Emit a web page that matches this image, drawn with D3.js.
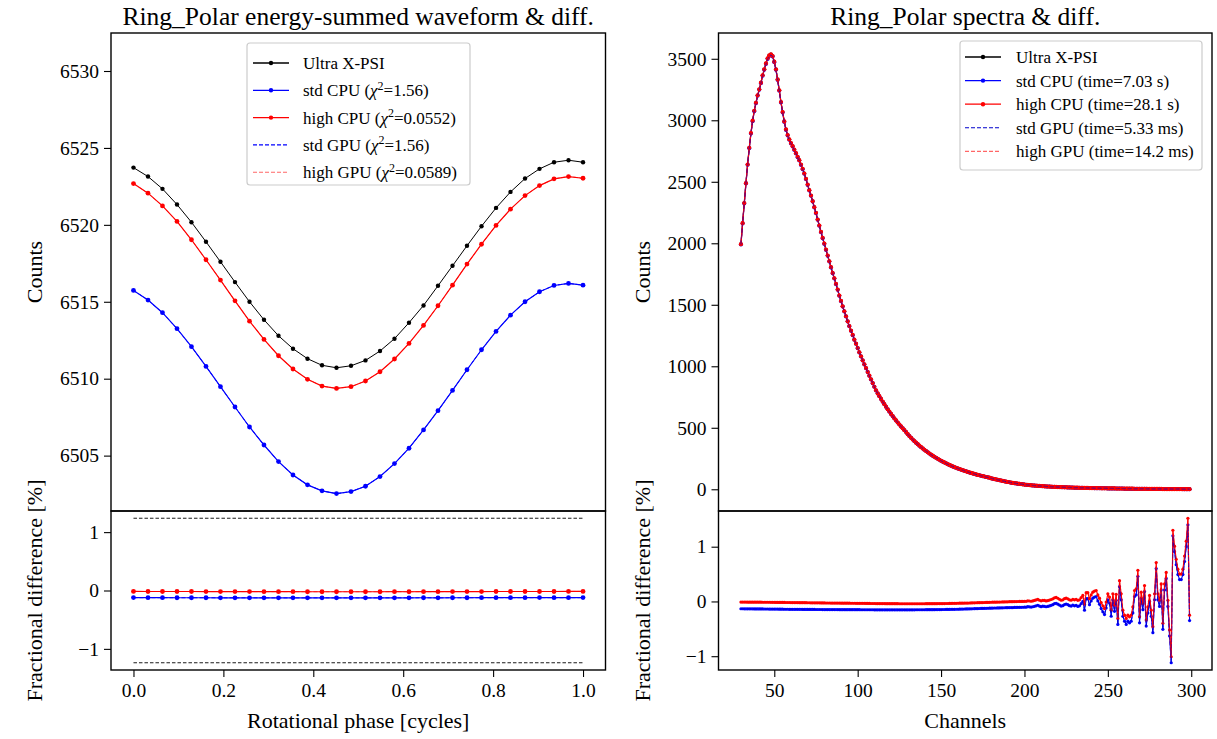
<!DOCTYPE html>
<html><head><meta charset="utf-8">
<script src="https://cdn.jsdelivr.net/npm/d3@7"></script>
<style>
body{margin:0;background:#fff}
svg{display:block}
text{font-family:"Liberation Serif","Times New Roman",serif;fill:#000}
</style>
</head><body>
<svg id="c" width="1217" height="739"></svg>
<script>
// ---------------- DATA ----------------
const phase = [0.0000,0.0323,0.0645,0.0968,0.1290,0.1613,0.1935,0.2258,0.2581,0.2903,0.3226,0.3548,0.3871,0.4194,0.4516,0.4839,
  0.5161,0.5484,0.5806,0.6129,0.6452,0.6774,0.7097,0.7419,0.7742,0.8065,0.8387,0.8710,0.9032,0.9355,0.9677,1.0000];
const ultraWave = [6523.72,6523.14,6522.34,6521.32,6520.17,6518.90,6517.60,6516.28,6515.00,6513.83,6512.79,6511.95,6511.30,6510.87,6510.71,6510.84,
  6511.19,6511.80,6512.60,6513.64,6514.76,6516.04,6517.34,6518.64,6519.91,6521.10,6522.14,6523.01,6523.64,6524.07,6524.20,6524.07];
const highWave = [6522.68,6522.06,6521.23,6520.22,6519.03,6517.73,6516.41,6515.06,6513.74,6512.55,6511.49,6510.63,6509.96,6509.52,6509.37,6509.48,
  6509.85,6510.45,6511.28,6512.29,6513.46,6514.74,6516.08,6517.45,6518.74,6519.96,6521.02,6521.90,6522.55,6522.99,6523.14,6523.03];
const stdWave = [6515.74,6515.11,6514.29,6513.25,6512.08,6510.80,6509.48,6508.16,6506.86,6505.69,6504.61,6503.74,6503.10,6502.71,6502.53,6502.66,
  6503.01,6503.64,6504.48,6505.48,6506.67,6507.92,6509.24,6510.58,6511.88,6513.07,6514.13,6515.00,6515.65,6516.06,6516.19,6516.08];
const highWaveDiff = [-0.016,-0.017,-0.017,-0.017,-0.017,-0.018,-0.018,-0.019,-0.019,-0.020,-0.020,-0.020,-0.021,-0.021,-0.021,-0.021,
  -0.021,-0.021,-0.020,-0.021,-0.020,-0.020,-0.019,-0.018,-0.018,-0.017,-0.017,-0.017,-0.017,-0.017,-0.016,-0.016];
const stdWaveDiff = [-0.122,-0.123,-0.123,-0.124,-0.124,-0.124,-0.125,-0.125,-0.125,-0.125,-0.126,-0.126,-0.126,-0.125,-0.126,-0.126,
  -0.126,-0.125,-0.125,-0.125,-0.124,-0.125,-0.124,-0.124,-0.123,-0.123,-0.123,-0.123,-0.122,-0.123,-0.123,-0.122];
const noiseLevel = [1.238, -1.238];

const channels = d3.range(30, 300);
const ultraSpec = [
  1993,2164,2327,2489,2641,2777,2896,2997,3078,3143,
  3203,3252,3306,3366,3415,3463,3504,3528,3537,3523,
  3477,3415,3333,3244,3149,3067,2991,2926,2880,2845,
  2815,2790,2763,2733,2704,2676,2641,2606,2568,2525,
  2478,2432,2389,2343,2294,2248,2194,2145,2093,2044,
  1998,1949,1901,1854,1806,1759,1716,1670,1624,1575,
  1532,1488,1448,1407,1366,1328,1290,1255,1217,1184,
  1149,1114,1081,1049,1016,986,954,924,894,864,
  834,805,780,757,735,713,692,671,651,632,
  613,595,577,560,543,527,511,496,481,466,
  448,433,419,405,392,379,367,355,343,332,
  321,311,301,291,282,273,264,256,248,240,
  232,225,218,211,204,198,192,186,180,175,
  170,165,160,155,150,146,141,137,133,129,
  125,121,117,114,110,107,104,100,97,94,
  89,86,83,80,77,74,71,68,65,62,
  59,57,54,52,50,48,46,44,42,40,
  38,37,35,34,32,31,30,29,28,27,
  26,25,24,23,22,22,21,20,20,19,
  18,18,17,17,16,16,15,15,14,14,
  13,13,13,12,12,12,11,11,11,10,
  10,10,9,9,9,9,8,8,8,8,
  7,7,7,7,7,6,6,6,6,6,
  5,5,5,5,5,5,4,4,4,4,
  4,4,4,4,3,3,3,3,3,3,
  3,3,3,2,2,2,2,2,2,2,
  2,2,2,2,2,1,1,1,1,1];
const highSpecDiff = [
  -0.012,-0.012,-0.012,-0.012,-0.013,-0.013,-0.013,-0.013,-0.013,-0.014,
  -0.014,-0.014,-0.014,-0.015,-0.015,-0.015,-0.015,-0.015,-0.016,-0.016,
  -0.016,-0.017,-0.017,-0.017,-0.018,-0.018,-0.018,-0.019,-0.019,-0.019,
  -0.020,-0.020,-0.021,-0.021,-0.021,-0.022,-0.022,-0.023,-0.023,-0.023,
  -0.024,-0.024,-0.025,-0.025,-0.025,-0.026,-0.026,-0.026,-0.027,-0.027,
  -0.027,-0.028,-0.028,-0.028,-0.029,-0.029,-0.029,-0.030,-0.030,-0.030,
  -0.031,-0.031,-0.031,-0.032,-0.032,-0.032,-0.033,-0.033,-0.033,-0.034,
  -0.034,-0.034,-0.035,-0.035,-0.035,-0.036,-0.036,-0.036,-0.037,-0.037,
  -0.037,-0.038,-0.038,-0.038,-0.039,-0.039,-0.039,-0.040,-0.040,-0.040,
  -0.040,-0.041,-0.041,-0.041,-0.041,-0.042,-0.042,-0.042,-0.042,-0.042,
  -0.042,-0.042,-0.042,-0.042,-0.042,-0.042,-0.042,-0.042,-0.042,-0.042,
  -0.042,-0.041,-0.041,-0.041,-0.041,-0.040,-0.040,-0.040,-0.039,-0.039,
  -0.039,-0.038,-0.038,-0.037,-0.037,-0.036,-0.036,-0.035,-0.034,-0.034,
  -0.033,-0.032,-0.032,-0.031,-0.030,-0.029,-0.029,-0.028,-0.027,-0.026,
  -0.025,-0.024,-0.023,-0.022,-0.021,-0.020,-0.019,-0.018,-0.017,-0.016,
  -0.015,-0.014,-0.013,-0.013,-0.012,-0.011,-0.010,-0.009,-0.008,-0.007,
  -0.006,-0.005,-0.004,-0.004,-0.003,-0.002,-0.001,0.000,0.000,0.001,
  0.002,0.003,0.012,0.008,0.004,0.010,0.018,0.028,0.038,0.022,
  0.012,0.020,0.018,0.010,0.016,0.026,0.036,0.048,0.066,0.074,
  0.058,0.040,0.022,0.030,0.050,0.060,0.048,0.030,0.022,0.040,
  0.03,0.04,0.02,0.03,0.07,0.11,-0.05,0.16,0.16,0.05,
  0.12,0.17,0.19,0.20,0.12,0.06,-0.02,-0.08,-0.13,-0.01,
  0.14,0.08,-0.16,0.14,-0.07,0.13,-0.31,0.38,0.14,-0.16,
  -0.25,-0.31,-0.25,-0.28,-0.25,-0.10,0.20,0.23,0.57,-0.28,
  0.17,-0.04,0.29,-0.34,-0.10,0.11,-0.16,-0.46,0.14,0.71,
  0.14,0.02,0.32,-0.40,0.32,0.53,0.02,-0.52,-1.01,1.30,
  1.01,0.77,0.59,0.50,0.50,0.59,0.83,1.10,1.52,-0.25];
const stdSpecDiff = [
  -0.133,-0.133,-0.134,-0.134,-0.134,-0.135,-0.135,-0.135,-0.136,-0.136,
  -0.136,-0.137,-0.137,-0.137,-0.138,-0.138,-0.138,-0.139,-0.139,-0.139,
  -0.140,-0.140,-0.140,-0.141,-0.141,-0.141,-0.142,-0.142,-0.142,-0.143,
  -0.143,-0.143,-0.143,-0.144,-0.144,-0.144,-0.144,-0.145,-0.145,-0.145,
  -0.145,-0.146,-0.146,-0.146,-0.146,-0.147,-0.147,-0.147,-0.147,-0.148,
  -0.148,-0.148,-0.148,-0.148,-0.149,-0.149,-0.149,-0.149,-0.149,-0.150,
  -0.150,-0.150,-0.150,-0.150,-0.150,-0.151,-0.151,-0.151,-0.151,-0.151,
  -0.151,-0.151,-0.152,-0.152,-0.152,-0.152,-0.152,-0.152,-0.152,-0.152,
  -0.153,-0.153,-0.153,-0.153,-0.153,-0.153,-0.153,-0.153,-0.153,-0.153,
  -0.153,-0.153,-0.153,-0.153,-0.153,-0.153,-0.153,-0.153,-0.153,-0.153,
  -0.153,-0.153,-0.153,-0.153,-0.153,-0.152,-0.152,-0.152,-0.152,-0.152,
  -0.152,-0.151,-0.151,-0.151,-0.150,-0.150,-0.150,-0.149,-0.149,-0.148,
  -0.148,-0.147,-0.147,-0.146,-0.146,-0.145,-0.144,-0.144,-0.143,-0.142,
  -0.142,-0.141,-0.140,-0.139,-0.138,-0.137,-0.136,-0.135,-0.134,-0.133,
  -0.132,-0.131,-0.130,-0.129,-0.128,-0.127,-0.126,-0.125,-0.124,-0.123,
  -0.122,-0.121,-0.120,-0.120,-0.119,-0.118,-0.117,-0.116,-0.115,-0.114,
  -0.113,-0.112,-0.111,-0.111,-0.110,-0.109,-0.108,-0.107,-0.107,-0.106,
  -0.105,-0.104,-0.095,-0.099,-0.103,-0.097,-0.089,-0.079,-0.069,-0.085,
  -0.095,-0.087,-0.089,-0.097,-0.091,-0.081,-0.071,-0.059,-0.041,-0.033,
  -0.049,-0.067,-0.085,-0.077,-0.057,-0.047,-0.059,-0.077,-0.085,-0.067,
  -0.08,-0.07,-0.09,-0.08,-0.04,0.00,-0.16,0.05,0.05,-0.06,
  0.01,0.06,0.08,0.09,0.01,-0.05,-0.13,-0.19,-0.24,-0.12,
  0.03,-0.03,-0.27,0.03,-0.18,0.02,-0.42,0.27,0.03,-0.27,
  -0.36,-0.42,-0.36,-0.39,-0.36,-0.21,0.09,0.12,0.46,-0.39,
  0.06,-0.15,0.18,-0.45,-0.21,0.00,-0.27,-0.57,0.03,0.60,
  0.03,-0.09,0.21,-0.51,0.21,0.42,-0.09,-0.63,-1.12,1.20,
  0.91,0.67,0.49,0.40,0.40,0.49,0.73,1.00,1.40,-0.35];
// CPU/GPU spectra: reference spectrum scaled by the read fractional differences
const stdSpec = ultraSpec.map((v,i)=>v*(1+stdSpecDiff[i]/100));
const highSpec = ultraSpec.map((v,i)=>v*(1+highSpecDiff[i]/100));

const waveYTicks = [6505,6510,6515,6520,6525,6530];
const diffTicks = [-1,0,1];
const phaseTicks = [0,0.2,0.4,0.6,0.8,1.0];
const specYTicks = [0,500,1000,1500,2000,2500,3000,3500];
const chanTicks = [50,100,150,200,250,300];

const leftLegend = [
  {label:["Ultra X-PSI"], color:"#000", dash:null, marker:true},
  {label:["std CPU (","χ","2","=1.56)"], color:"#0000ff", dash:null, marker:true},
  {label:["high CPU (","χ","2","=0.0552)"], color:"#ff0000", dash:null, marker:true},
  {label:["std GPU (","χ","2","=1.56)"], color:"#0000ff", dash:"4,2", marker:false},
  {label:["high GPU (","χ","2","=0.0589)"], color:"rgba(255,0,0,0.6)", dash:"4,2", marker:false}];
const rightLegend = [
  {label:["Ultra X-PSI"], color:"#000", dash:null, marker:true},
  {label:["std CPU (time=7.03 s)"], color:"#0000ff", dash:null, marker:true},
  {label:["high CPU (time=28.1 s)"], color:"#ff0000", dash:null, marker:true},
  {label:["std GPU (time=5.33 ms)"], color:"#0000cc", dash:"4,2", marker:false},
  {label:["high GPU (time=14.2 ms)"], color:"rgba(255,0,0,0.6)", dash:"4,2", marker:false}];

// ---------------- LAYOUT ----------------
const svg = d3.select("#c");
const yTop = 33, yMid = 511, yBot = 670;
const Lx = [111, 605.5], Rx = [718.5, 1212];

const xL = d3.scaleLinear().domain([-0.05, 1.05]).range(Lx);
const yLU = d3.scaleLinear().domain([6501.40, 6532.47]).range([yMid, yTop]);
const yLL = d3.scaleLinear().domain([-1.362, 1.362]).range([yBot, yMid]);
const xR = d3.scaleLinear().domain([16.55, 312.45]).range(Rx);
const yRU = d3.scaleLinear().domain([-176.6, 3709.6]).range([yMid, yTop]);
const yRL = d3.scaleLinear().domain([-1.252, 1.652]).range([yBot, yMid]);

function series(xs, ys, xs_, ys_, color, opt) {
  opt = opt || {};
  const g = svg.append("g");
  const line = d3.line().x((d,i)=>xs_(xs[i])).y(d=>ys_(d));
  g.append("path").datum(ys).attr("d", line).attr("fill","none")
    .attr("stroke", color).attr("stroke-width", opt.w || 1.2)
    .attr("stroke-dasharray", opt.dash || null)
    .attr("stroke-opacity", opt.op || 1);
  if (opt.r) {
    g.selectAll("circle").data(ys).join("circle")
      .attr("cx",(d,i)=>xs_(xs[i])).attr("cy",d=>ys_(d)).attr("r",opt.r)
      .attr("fill",color);
  }
}

function styleAxis(g, fs) {
  g.selectAll("path.domain").remove();
  g.selectAll(".tick line").attr("stroke","#000").attr("stroke-width",1.1);
  g.selectAll(".tick text").attr("font-family",'"Liberation Serif","Times New Roman",serif')
    .attr("font-size", fs).attr("fill","#000");
}
const TFS = 19.5;
function yAxis(scale, x, ticks, fmt) {
  const g = svg.append("g").attr("transform",`translate(${x},0)`)
    .call(d3.axisLeft(scale).tickValues(ticks).tickSize(7).tickPadding(5).tickFormat(fmt));
  styleAxis(g, TFS);
}
function xAxis(scale, ticks, fmt) {
  const g = svg.append("g").attr("transform",`translate(0,${yBot})`)
    .call(d3.axisBottom(scale).tickValues(ticks).tickSize(7).tickPadding(6).tickFormat(fmt));
  styleAxis(g, TFS);
}
const minusFmt = d => d3.format("d")(d);
yAxis(yLU, Lx[0], waveYTicks, d3.format("d"));
yAxis(yLL, Lx[0], diffTicks, minusFmt);
xAxis(xL, phaseTicks, d3.format(".1f"));
yAxis(yRU, Rx[0], specYTicks, d3.format("d"));
yAxis(yRL, Rx[0], diffTicks, minusFmt);
xAxis(xR, chanTicks, d3.format("d"));

// ---------------- LEFT PANEL ----------------
series(phase, ultraWave, xL, yLU, "#000", {w:1, r:2.2});
series(phase, stdWave, xL, yLU, "#0000ff", {w:1.2, r:2.4});
series(phase, highWave, xL, yLU, "#ff0000", {w:1.2, r:2.4});
series(phase, stdWave, xL, yLU, "#0000ff", {w:1, dash:"4,2"});
series(phase, highWave, xL, yLU, "#ff0000", {w:1, dash:"4,2", op:0.6});

noiseLevel.forEach(v => {
  series([0,1], [v,v], xL, yLL, "#000", {w:0.9, dash:"3.5,2"});
});
series(phase, stdWaveDiff, xL, yLL, "#0000ff", {w:1.2, r:2.4});
series(phase, highWaveDiff, xL, yLL, "#ff0000", {w:1.2, r:2.4});
series(phase, stdWaveDiff, xL, yLL, "#0000ff", {w:1, dash:"4,2"});
series(phase, highWaveDiff, xL, yLL, "#ff0000", {w:1, dash:"4,2", op:0.6});

// ---------------- RIGHT PANEL ----------------
series(channels, ultraSpec, xR, yRU, "#000", {w:1, r:1.8});
series(channels, stdSpec, xR, yRU, "#0000ff", {w:1.2, r:2});
series(channels, highSpec, xR, yRU, "#ff0000", {w:1.3, r:2.1});
series(channels, stdSpec, xR, yRU, "#0000cc", {w:1, dash:"4,2"});
series(channels, highSpec, xR, yRU, "#ff0000", {w:1, dash:"4,2", op:0.6});

series(channels, stdSpecDiff, xR, yRL, "#0000ff", {w:1.1, r:1.6});
series(channels, highSpecDiff, xR, yRL, "#ff0000", {w:1.1, r:1.6});
series(channels, stdSpecDiff, xR, yRL, "#0000cc", {w:0.9, dash:"4,2"});
series(channels, highSpecDiff, xR, yRL, "#ff0000", {w:0.9, dash:"4,2", op:0.6});

// frames
[[Lx,yTop,yMid],[Lx,yMid,yBot],[Rx,yTop,yMid],[Rx,yMid,yBot]].forEach(([xs,a,b])=>{
  svg.append("rect").attr("x",xs[0]).attr("y",a).attr("width",xs[1]-xs[0]).attr("height",b-a)
    .attr("fill","none").attr("stroke","#000").attr("stroke-width",1.4);
});

// legends
function legend(items, box, rows, hx, tx) {
  const g = svg.append("g");
  g.append("rect").attr("x",box[0]).attr("y",box[1]).attr("width",box[2]).attr("height",box[3])
    .attr("rx",3).attr("fill","rgba(255,255,255,0.8)").attr("stroke","#cccccc").attr("stroke-width",1.2);
  items.forEach((it,i)=>{
    const y = rows[0] + i*rows[1];
    g.append("line").attr("x1",hx[0]).attr("x2",hx[1]).attr("y1",y).attr("y2",y)
      .attr("stroke",it.color).attr("stroke-width",it.marker?1.3:1.1).attr("stroke-dasharray",it.dash);
    if (it.marker) g.append("circle").attr("cx",(hx[0]+hx[1])/2).attr("cy",y).attr("r",2.2).attr("fill",it.color);
    const t = g.append("text").attr("x",tx).attr("y",y).attr("dy","0.35em").attr("font-size",17);
    if (it.label.length === 1) t.text(it.label[0]);
    else {
      t.append("tspan").text(it.label[0]);
      t.append("tspan").attr("font-style","italic").text(it.label[1]);
      t.append("tspan").attr("font-size",12).attr("dy","-0.55em").text(it.label[2]);
      t.append("tspan").attr("dy","0.4em").text(it.label[3]);
    }
  });
}
legend(leftLegend, [247,43,223,142], [63,27.3], [253,289], 303);
legend(rightLegend, [960,41,242,129], [57,23.6], [965,1001], 1016);

// titles and labels
const TT = 25.5, LF = 22;
svg.append("text").attr("x",(Lx[0]+Lx[1])/2).attr("y",25).attr("text-anchor","middle").attr("font-size",TT)
  .text("Ring_Polar energy-summed waveform & diff.");
svg.append("text").attr("x",(Rx[0]+Rx[1])/2).attr("y",25).attr("text-anchor","middle").attr("font-size",TT)
  .text("Ring_Polar spectra & diff.");
svg.append("text").attr("x",(Lx[0]+Lx[1])/2).attr("y",728).attr("text-anchor","middle").attr("font-size",LF)
  .text("Rotational phase [cycles]");
svg.append("text").attr("x",(Rx[0]+Rx[1])/2).attr("y",728).attr("text-anchor","middle").attr("font-size",LF)
  .text("Channels");
function ylab(x, y, s) {
  svg.append("text").attr("transform",`translate(${x},${y}) rotate(-90)`).attr("text-anchor","middle")
    .attr("font-size",LF).text(s);
}
ylab(42, (yTop+yMid)/2, "Counts");
ylab(42, (yMid+yBot)/2, "Fractional difference [%]");
ylab(650, (yTop+yMid)/2, "Counts");
ylab(650, (yMid+yBot)/2, "Fractional difference [%]");
</script>
</body></html>
